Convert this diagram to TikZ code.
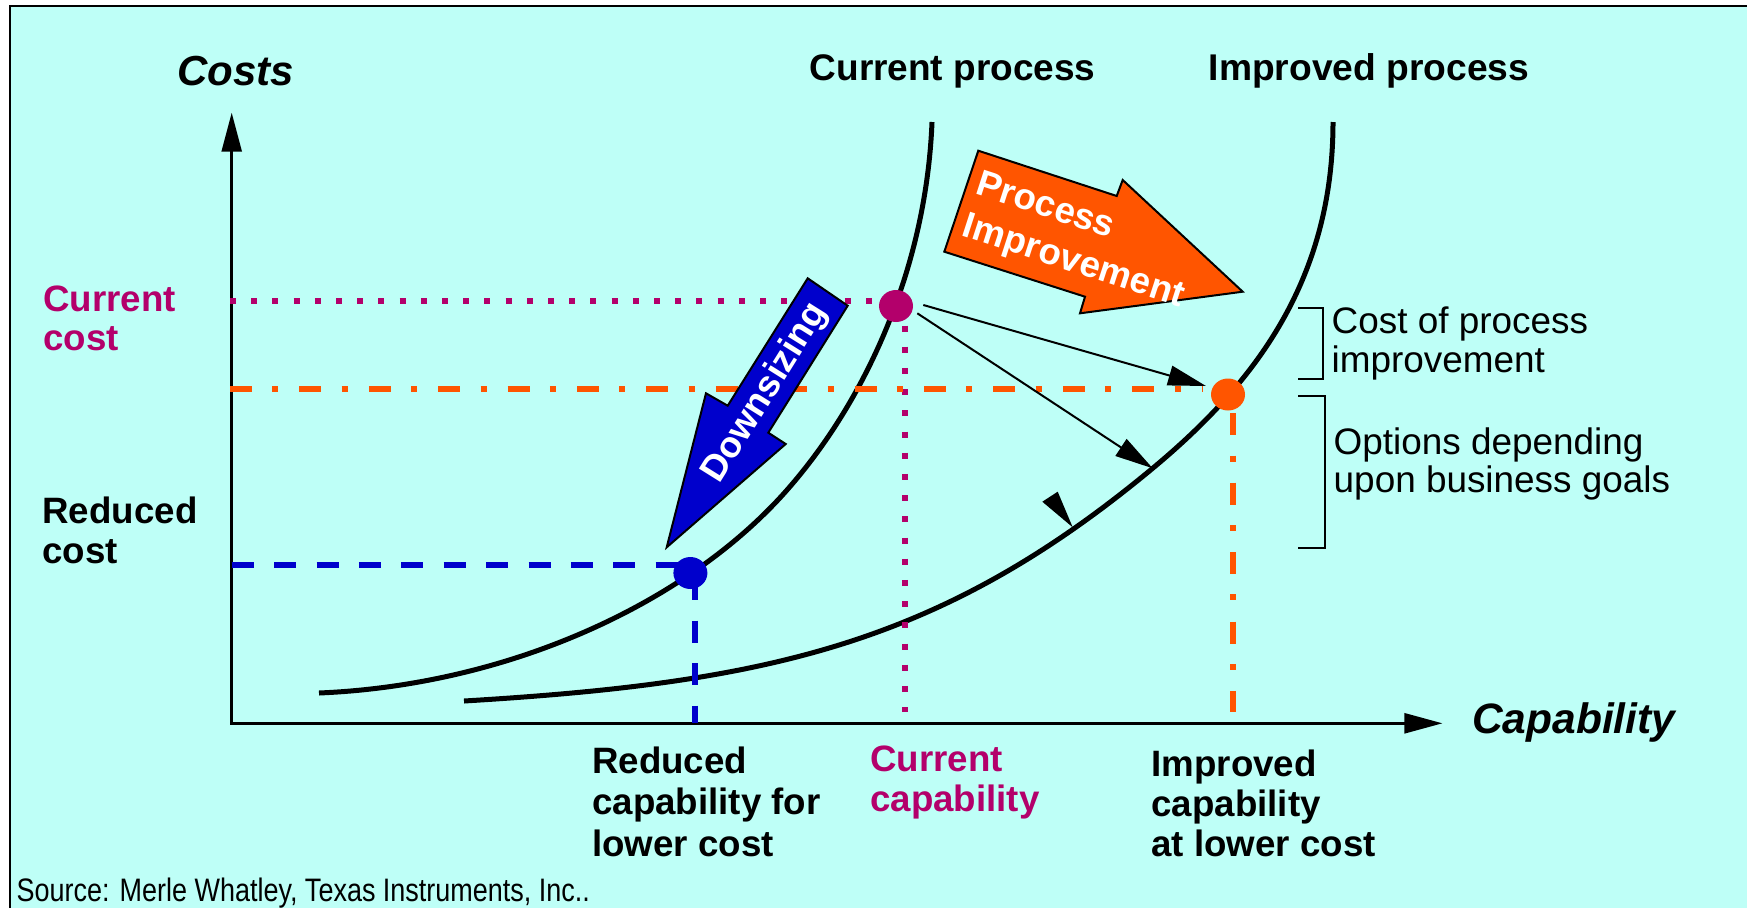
\documentclass[tikz,border=0pt]{standalone}
\usepackage{fontspec}
\usepackage{graphicx}
\setmainfont{Liberation Sans}
\usetikzlibrary{arrows.meta,shapes.geometric}
\definecolor{bgc}{RGB}{190,255,247}
\definecolor{mag}{RGB}{179,0,107}
\definecolor{org}{RGB}{255,85,0}
\definecolor{blu}{RGB}{0,0,204}
\begin{document}
\begin{tikzpicture}[x=1pt,y=-1pt,
  lab/.style={inner sep=0pt, align=left, anchor=north west, font=\fontsize{36.7}{#1}\selectfont\bfseries},
  labr/.style={inner sep=0pt, align=left, anchor=north west, font=\fontsize{36.9}{#1}\selectfont},
  curve/.style={line width=5pt},
  axisline/.style={line width=2.5pt, {Triangle[length=39pt,width=20pt]}-{Triangle[length=38pt,width=20pt]}},
  ptr/.style={line width=2pt, -{Triangle[length=38pt,width=20pt]}},
  magdots/.style={mag, line width=6pt, dash pattern=on 6pt off 15.2pt},
  orgdash/.style={org, line width=6pt, dash pattern=on 22pt off 20.3pt on 6pt off 21.1pt},
  bludash/.style={blu, line width=6pt, dash pattern=on 22pt off 20.4pt},
  brk/.style={line width=2pt},
  dot/.style={ellipse, inner sep=0pt, minimum width=34pt, minimum height=32pt},
  bigarrow/.style={line width=2pt, line join=miter}]
\useasboundingbox (0,0) rectangle (1747,908);
% background and frame
\fill[bgc] (10,6) rectangle (1747,908);
\draw[line width=2pt] (10,908) -- (10,6) -- (1747,6);

% axes
\coordinate (O) at (231.7,723.3);
\coordinate (ytip) at (231.7,112.7);
\coordinate (xtip) at (1442.4,723.3);
\draw[axisline] (ytip) -- (O) -- (xtip);

% curves
\draw[curve] (319,693) .. controls (510,685) and (688,602.5) .. (787,490)
                       .. controls (863,403.75) and (926,272) .. (932,122);
\draw[curve] (464,701) .. controls (769,682.7) and (941.25,644) .. (1153,468)
                       .. controls (1253,384.8) and (1333,282) .. (1333,122);

% guide lines
\coordinate (mh1) at (230,300.7);   \coordinate (mh2) at (882,300.7);
\coordinate (mv1) at (905,325.5);   \coordinate (mv2) at (905,712);
\coordinate (oh1) at (230,388.5);   \coordinate (oh2) at (1203,388.5);
\coordinate (ov1) at (1232.7,413.3); \coordinate (ov2) at (1232.7,712);
\coordinate (bh1) at (231.7,565);   \coordinate (bh2) at (680,565);
\coordinate (bv1) at (695,578.3);   \coordinate (bv2) at (695,723);
\draw[magdots] (mh1) -- (mh2);
\draw[magdots] (mv1) -- (mv2);
\draw[orgdash] (oh1) -- (oh2);
\draw[orgdash] (ov1) -- (ov2);
\draw[bludash] (bh1) -- (bh2);
\draw[bludash] (bv1) -- (bv2);

% dots
\node[dot, fill=mag] (cdot) at (896,306) {};
\node[dot, fill=org] (idot) at (1228,394.5) {};
\node[dot, fill=blu] (bdot) at (690.4,573) {};

% pointer arrows
\coordinate (a1s) at (923.3,305);
\coordinate (a1e) at (1206,386);
\coordinate (a2s) at (917.3,313.3);
\coordinate (a2e) at (1152.7,468.3);
\draw[ptr] (a1s) -- (a1e);
\draw[ptr] (a2s) -- (a2e);
\fill[line join=round] (1072.7,527.3) -- (1042.3,501.7) -- (1057.7,491.7) -- cycle;

% big arrows
\draw[bigarrow, fill=org] (978.3,150.7) -- (1116.7,196) -- (1122.7,180) -- (1242.7,291.7) -- (1080,313.3) -- (1085,296.7) -- (944.3,251.7) -- cycle;
\draw[bigarrow, fill=blu] (807.7,278.3) -- (847.7,305.7) -- (768.3,432.7) -- (785.7,444) -- (666.7,547.3) -- (706,393.3) -- (727.7,405.7) -- cycle;
\node[inner sep=0pt, align=left, rotate=-18, text=white, font=\fontsize{36.7}{44}\selectfont\bfseries] (tpi) at (1080,242) {Process\\Improvement};
\node[inner sep=0pt, rotate=58, text=white, font=\fontsize{36.7}{40}\selectfont\bfseries] (tds) at (765.7,393.3) {Downsizing};

% brackets
\draw[brk] (1298.3,308.3) -- (1322.7,308.3) -- (1322.7,379.3) -- (1298.3,379.3);
\draw[brk] (1298.3,396) -- (1325,396) -- (1325,547.7) -- (1298.3,547.7);

% labels
\node[inner sep=0pt, anchor=base west, font=\fontsize{42}{46}\selectfont\bfseries\itshape] (tcosts) at (177,85) {Costs};
\node[inner sep=0pt, anchor=base west, font=\fontsize{42.5}{46}\selectfont\bfseries\itshape] (tcap) at (1472,733.3) {Capability};
\node[inner sep=0pt, anchor=base west, font=\fontsize{37}{40}\selectfont\bfseries] (tcp) at (809.5,80) {Current process};
\node[inner sep=0pt, anchor=base west, font=\fontsize{37.2}{40}\selectfont\bfseries] (tip) at (1208.5,80) {Improved process};
\node[lab=39, text=mag] (tcc) at (43,286) {Current\\cost};
\node[lab=40] (trc) at (42.3,497) {Reduced\\cost};
\node[lab=41.5] (trcap) at (592,746.4) {Reduced\\capability for\\lower cost};
\node[lab=40, text=mag] (tccap) at (870,746) {Current\\capability};
\node[lab=40] (ticap) at (1151.3,749.7) {Improved\\capability\\at lower cost};
\node[labr=38.7] (tcpi) at (1331.5,306.6) {Cost of process\\improvement};
\node[labr=38.3] (topt) at (1333.5,427.7) {Options depending\\upon business goals};
\node[inner sep=0pt, anchor=base west, font=\fontsize{32.5}{36}\selectfont] (tsrc) at (16.5,901.7) {\scalebox{0.83}[1]{Source: Merle Whatley, Texas Instruments, Inc..}};
\end{tikzpicture}
\end{document}
